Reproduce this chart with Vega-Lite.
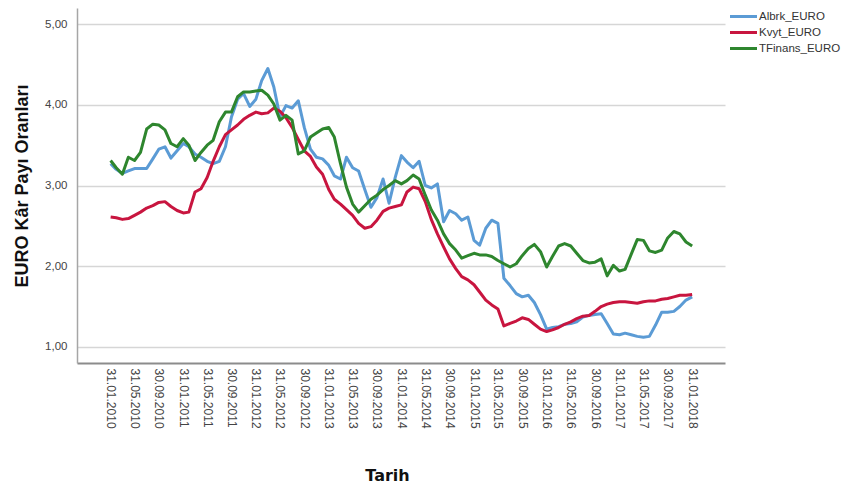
{
  "$schema": "https://vega.github.io/schema/vega-lite/v6.json",
  "width": 648,
  "height": 355,
  "autosize": {"type": "none"},
  "padding": {"left": 77, "top": 8, "right": 142, "bottom": 128},
  "background": "white",
  "data": {"values": [
    {"Tarih":"2010-01-31","Albrk_EURO":3.27,"Kvyt_EURO":2.61,"TFinans_EURO":3.31},
    {"Tarih":"2010-02-28","Albrk_EURO":3.20,"Kvyt_EURO":2.60,"TFinans_EURO":3.22},
    {"Tarih":"2010-03-31","Albrk_EURO":3.15,"Kvyt_EURO":2.58,"TFinans_EURO":3.14},
    {"Tarih":"2010-04-30","Albrk_EURO":3.18,"Kvyt_EURO":2.59,"TFinans_EURO":3.35},
    {"Tarih":"2010-05-31","Albrk_EURO":3.21,"Kvyt_EURO":2.63,"TFinans_EURO":3.31},
    {"Tarih":"2010-06-30","Albrk_EURO":3.21,"Kvyt_EURO":2.67,"TFinans_EURO":3.41},
    {"Tarih":"2010-07-31","Albrk_EURO":3.21,"Kvyt_EURO":2.72,"TFinans_EURO":3.70},
    {"Tarih":"2010-08-31","Albrk_EURO":3.33,"Kvyt_EURO":2.75,"TFinans_EURO":3.76},
    {"Tarih":"2010-09-30","Albrk_EURO":3.45,"Kvyt_EURO":2.79,"TFinans_EURO":3.75},
    {"Tarih":"2010-10-31","Albrk_EURO":3.48,"Kvyt_EURO":2.80,"TFinans_EURO":3.69},
    {"Tarih":"2010-11-30","Albrk_EURO":3.34,"Kvyt_EURO":2.74,"TFinans_EURO":3.52},
    {"Tarih":"2010-12-31","Albrk_EURO":3.43,"Kvyt_EURO":2.69,"TFinans_EURO":3.48},
    {"Tarih":"2011-01-31","Albrk_EURO":3.52,"Kvyt_EURO":2.66,"TFinans_EURO":3.58},
    {"Tarih":"2011-02-28","Albrk_EURO":3.48,"Kvyt_EURO":2.67,"TFinans_EURO":3.50},
    {"Tarih":"2011-03-31","Albrk_EURO":3.39,"Kvyt_EURO":2.92,"TFinans_EURO":3.31},
    {"Tarih":"2011-04-30","Albrk_EURO":3.35,"Kvyt_EURO":2.96,"TFinans_EURO":3.41},
    {"Tarih":"2011-05-31","Albrk_EURO":3.30,"Kvyt_EURO":3.10,"TFinans_EURO":3.50},
    {"Tarih":"2011-06-30","Albrk_EURO":3.27,"Kvyt_EURO":3.30,"TFinans_EURO":3.56},
    {"Tarih":"2011-07-31","Albrk_EURO":3.30,"Kvyt_EURO":3.48,"TFinans_EURO":3.79},
    {"Tarih":"2011-08-31","Albrk_EURO":3.48,"Kvyt_EURO":3.63,"TFinans_EURO":3.91},
    {"Tarih":"2011-09-30","Albrk_EURO":3.85,"Kvyt_EURO":3.69,"TFinans_EURO":3.91},
    {"Tarih":"2011-10-31","Albrk_EURO":4.07,"Kvyt_EURO":3.75,"TFinans_EURO":4.10},
    {"Tarih":"2011-11-30","Albrk_EURO":4.14,"Kvyt_EURO":3.82,"TFinans_EURO":4.16},
    {"Tarih":"2011-12-31","Albrk_EURO":3.98,"Kvyt_EURO":3.87,"TFinans_EURO":4.16},
    {"Tarih":"2012-01-31","Albrk_EURO":4.07,"Kvyt_EURO":3.91,"TFinans_EURO":4.17},
    {"Tarih":"2012-02-29","Albrk_EURO":4.30,"Kvyt_EURO":3.89,"TFinans_EURO":4.18},
    {"Tarih":"2012-03-31","Albrk_EURO":4.45,"Kvyt_EURO":3.90,"TFinans_EURO":4.12},
    {"Tarih":"2012-04-30","Albrk_EURO":4.22,"Kvyt_EURO":3.96,"TFinans_EURO":4.01},
    {"Tarih":"2012-05-31","Albrk_EURO":3.85,"Kvyt_EURO":3.92,"TFinans_EURO":3.81},
    {"Tarih":"2012-06-30","Albrk_EURO":3.99,"Kvyt_EURO":3.84,"TFinans_EURO":3.87},
    {"Tarih":"2012-07-31","Albrk_EURO":3.96,"Kvyt_EURO":3.72,"TFinans_EURO":3.81},
    {"Tarih":"2012-08-31","Albrk_EURO":4.05,"Kvyt_EURO":3.57,"TFinans_EURO":3.39},
    {"Tarih":"2012-09-30","Albrk_EURO":3.72,"Kvyt_EURO":3.43,"TFinans_EURO":3.43},
    {"Tarih":"2012-10-31","Albrk_EURO":3.45,"Kvyt_EURO":3.36,"TFinans_EURO":3.60},
    {"Tarih":"2012-11-30","Albrk_EURO":3.35,"Kvyt_EURO":3.23,"TFinans_EURO":3.65},
    {"Tarih":"2012-12-31","Albrk_EURO":3.33,"Kvyt_EURO":3.14,"TFinans_EURO":3.70},
    {"Tarih":"2013-01-31","Albrk_EURO":3.25,"Kvyt_EURO":2.95,"TFinans_EURO":3.72},
    {"Tarih":"2013-02-28","Albrk_EURO":3.12,"Kvyt_EURO":2.83,"TFinans_EURO":3.60},
    {"Tarih":"2013-03-31","Albrk_EURO":3.08,"Kvyt_EURO":2.77,"TFinans_EURO":3.27},
    {"Tarih":"2013-04-30","Albrk_EURO":3.35,"Kvyt_EURO":2.70,"TFinans_EURO":2.98},
    {"Tarih":"2013-05-31","Albrk_EURO":3.22,"Kvyt_EURO":2.63,"TFinans_EURO":2.77},
    {"Tarih":"2013-06-30","Albrk_EURO":3.18,"Kvyt_EURO":2.53,"TFinans_EURO":2.67},
    {"Tarih":"2013-07-31","Albrk_EURO":2.95,"Kvyt_EURO":2.47,"TFinans_EURO":2.75},
    {"Tarih":"2013-08-31","Albrk_EURO":2.73,"Kvyt_EURO":2.49,"TFinans_EURO":2.83},
    {"Tarih":"2013-09-30","Albrk_EURO":2.85,"Kvyt_EURO":2.57,"TFinans_EURO":2.88},
    {"Tarih":"2013-10-31","Albrk_EURO":3.08,"Kvyt_EURO":2.68,"TFinans_EURO":2.95},
    {"Tarih":"2013-11-30","Albrk_EURO":2.78,"Kvyt_EURO":2.72,"TFinans_EURO":3.00},
    {"Tarih":"2013-12-31","Albrk_EURO":3.10,"Kvyt_EURO":2.74,"TFinans_EURO":3.06},
    {"Tarih":"2014-01-31","Albrk_EURO":3.37,"Kvyt_EURO":2.76,"TFinans_EURO":3.02},
    {"Tarih":"2014-02-28","Albrk_EURO":3.29,"Kvyt_EURO":2.92,"TFinans_EURO":3.06},
    {"Tarih":"2014-03-31","Albrk_EURO":3.22,"Kvyt_EURO":2.98,"TFinans_EURO":3.13},
    {"Tarih":"2014-04-30","Albrk_EURO":3.30,"Kvyt_EURO":2.96,"TFinans_EURO":3.08},
    {"Tarih":"2014-05-31","Albrk_EURO":3.00,"Kvyt_EURO":2.80,"TFinans_EURO":2.88},
    {"Tarih":"2014-06-30","Albrk_EURO":2.97,"Kvyt_EURO":2.58,"TFinans_EURO":2.70},
    {"Tarih":"2014-07-31","Albrk_EURO":3.02,"Kvyt_EURO":2.40,"TFinans_EURO":2.57},
    {"Tarih":"2014-08-31","Albrk_EURO":2.55,"Kvyt_EURO":2.24,"TFinans_EURO":2.40},
    {"Tarih":"2014-09-30","Albrk_EURO":2.69,"Kvyt_EURO":2.09,"TFinans_EURO":2.28},
    {"Tarih":"2014-10-31","Albrk_EURO":2.65,"Kvyt_EURO":1.97,"TFinans_EURO":2.20},
    {"Tarih":"2014-11-30","Albrk_EURO":2.57,"Kvyt_EURO":1.87,"TFinans_EURO":2.10},
    {"Tarih":"2014-12-31","Albrk_EURO":2.61,"Kvyt_EURO":1.83,"TFinans_EURO":2.13},
    {"Tarih":"2015-01-31","Albrk_EURO":2.32,"Kvyt_EURO":1.77,"TFinans_EURO":2.16},
    {"Tarih":"2015-02-28","Albrk_EURO":2.26,"Kvyt_EURO":1.68,"TFinans_EURO":2.14},
    {"Tarih":"2015-03-31","Albrk_EURO":2.47,"Kvyt_EURO":1.58,"TFinans_EURO":2.14},
    {"Tarih":"2015-04-30","Albrk_EURO":2.57,"Kvyt_EURO":1.52,"TFinans_EURO":2.12},
    {"Tarih":"2015-05-31","Albrk_EURO":2.53,"Kvyt_EURO":1.47,"TFinans_EURO":2.07},
    {"Tarih":"2015-06-30","Albrk_EURO":1.85,"Kvyt_EURO":1.26,"TFinans_EURO":2.03},
    {"Tarih":"2015-07-31","Albrk_EURO":1.76,"Kvyt_EURO":1.29,"TFinans_EURO":1.99},
    {"Tarih":"2015-08-31","Albrk_EURO":1.66,"Kvyt_EURO":1.32,"TFinans_EURO":2.03},
    {"Tarih":"2015-09-30","Albrk_EURO":1.62,"Kvyt_EURO":1.36,"TFinans_EURO":2.13},
    {"Tarih":"2015-10-31","Albrk_EURO":1.64,"Kvyt_EURO":1.34,"TFinans_EURO":2.22},
    {"Tarih":"2015-11-30","Albrk_EURO":1.55,"Kvyt_EURO":1.28,"TFinans_EURO":2.27},
    {"Tarih":"2015-12-31","Albrk_EURO":1.40,"Kvyt_EURO":1.22,"TFinans_EURO":2.18},
    {"Tarih":"2016-01-31","Albrk_EURO":1.22,"Kvyt_EURO":1.19,"TFinans_EURO":1.99},
    {"Tarih":"2016-02-29","Albrk_EURO":1.24,"Kvyt_EURO":1.21,"TFinans_EURO":2.12},
    {"Tarih":"2016-03-31","Albrk_EURO":1.25,"Kvyt_EURO":1.24,"TFinans_EURO":2.25},
    {"Tarih":"2016-04-30","Albrk_EURO":1.28,"Kvyt_EURO":1.28,"TFinans_EURO":2.28},
    {"Tarih":"2016-05-31","Albrk_EURO":1.29,"Kvyt_EURO":1.31,"TFinans_EURO":2.25},
    {"Tarih":"2016-06-30","Albrk_EURO":1.31,"Kvyt_EURO":1.35,"TFinans_EURO":2.16},
    {"Tarih":"2016-07-31","Albrk_EURO":1.37,"Kvyt_EURO":1.38,"TFinans_EURO":2.07},
    {"Tarih":"2016-08-31","Albrk_EURO":1.39,"Kvyt_EURO":1.39,"TFinans_EURO":2.04},
    {"Tarih":"2016-09-30","Albrk_EURO":1.40,"Kvyt_EURO":1.44,"TFinans_EURO":2.05},
    {"Tarih":"2016-10-31","Albrk_EURO":1.41,"Kvyt_EURO":1.50,"TFinans_EURO":2.09},
    {"Tarih":"2016-11-30","Albrk_EURO":1.29,"Kvyt_EURO":1.53,"TFinans_EURO":1.88},
    {"Tarih":"2016-12-31","Albrk_EURO":1.16,"Kvyt_EURO":1.55,"TFinans_EURO":2.01},
    {"Tarih":"2017-01-31","Albrk_EURO":1.15,"Kvyt_EURO":1.56,"TFinans_EURO":1.94},
    {"Tarih":"2017-02-28","Albrk_EURO":1.17,"Kvyt_EURO":1.56,"TFinans_EURO":1.96},
    {"Tarih":"2017-03-31","Albrk_EURO":1.15,"Kvyt_EURO":1.55,"TFinans_EURO":2.15},
    {"Tarih":"2017-04-30","Albrk_EURO":1.13,"Kvyt_EURO":1.54,"TFinans_EURO":2.33},
    {"Tarih":"2017-05-31","Albrk_EURO":1.12,"Kvyt_EURO":1.56,"TFinans_EURO":2.32},
    {"Tarih":"2017-06-30","Albrk_EURO":1.13,"Kvyt_EURO":1.57,"TFinans_EURO":2.19},
    {"Tarih":"2017-07-31","Albrk_EURO":1.27,"Kvyt_EURO":1.57,"TFinans_EURO":2.17},
    {"Tarih":"2017-08-31","Albrk_EURO":1.43,"Kvyt_EURO":1.59,"TFinans_EURO":2.20},
    {"Tarih":"2017-09-30","Albrk_EURO":1.43,"Kvyt_EURO":1.60,"TFinans_EURO":2.35},
    {"Tarih":"2017-10-31","Albrk_EURO":1.44,"Kvyt_EURO":1.62,"TFinans_EURO":2.43},
    {"Tarih":"2017-11-30","Albrk_EURO":1.50,"Kvyt_EURO":1.64,"TFinans_EURO":2.40},
    {"Tarih":"2017-12-31","Albrk_EURO":1.58,"Kvyt_EURO":1.64,"TFinans_EURO":2.30},
    {"Tarih":"2018-01-31","Albrk_EURO":1.62,"Kvyt_EURO":1.65,"TFinans_EURO":2.25}
  ]},
  "transform": [{"fold": ["Albrk_EURO", "Kvyt_EURO", "TFinans_EURO"], "as": ["Seri", "Oran"]}],
  "mark": {"type": "line", "strokeWidth": 3, "strokeJoin": "round"},
  "encoding": {
    "x": {
      "field": "Tarih",
      "type": "temporal",
      "scale": {
        "type": "utc",
        "domain": [{"year": 2009, "month": 8, "date": 15, "utc": true}, {"year": 2018, "month": 7, "date": 15, "utc": true}]
      },
      "axis": {
        "title": "Tarih",
        "values": [
          {"year": 2010, "month": 1, "date": 31, "utc": true},
          {"year": 2010, "month": 5, "date": 31, "utc": true},
          {"year": 2010, "month": 9, "date": 30, "utc": true},
          {"year": 2011, "month": 1, "date": 31, "utc": true},
          {"year": 2011, "month": 5, "date": 31, "utc": true},
          {"year": 2011, "month": 9, "date": 30, "utc": true},
          {"year": 2012, "month": 1, "date": 31, "utc": true},
          {"year": 2012, "month": 5, "date": 31, "utc": true},
          {"year": 2012, "month": 9, "date": 30, "utc": true},
          {"year": 2013, "month": 1, "date": 31, "utc": true},
          {"year": 2013, "month": 5, "date": 31, "utc": true},
          {"year": 2013, "month": 9, "date": 30, "utc": true},
          {"year": 2014, "month": 1, "date": 31, "utc": true},
          {"year": 2014, "month": 5, "date": 31, "utc": true},
          {"year": 2014, "month": 9, "date": 30, "utc": true},
          {"year": 2015, "month": 1, "date": 31, "utc": true},
          {"year": 2015, "month": 5, "date": 31, "utc": true},
          {"year": 2015, "month": 9, "date": 30, "utc": true},
          {"year": 2016, "month": 1, "date": 31, "utc": true},
          {"year": 2016, "month": 5, "date": 31, "utc": true},
          {"year": 2016, "month": 9, "date": 30, "utc": true},
          {"year": 2017, "month": 1, "date": 31, "utc": true},
          {"year": 2017, "month": 5, "date": 31, "utc": true},
          {"year": 2017, "month": 9, "date": 30, "utc": true},
          {"year": 2018, "month": 1, "date": 31, "utc": true}
        ],
        "labelExpr": "utcFormat(datum.value, '%d.%m.%Y')",
        "labelAngle": 90,
        "labelAlign": "left",
        "labelBaseline": "middle",
        "labelPadding": 5,
        "labelOverlap": false,
        "labelFlush": false,
        "ticks": false,
        "grid": false,
        "domainColor": "#8c8c8c",
        "domainWidth": 2,
        "labelFont": "Liberation Sans",
        "labelFontSize": 12,
        "labelColor": "#444444",
        "titleFont": "DejaVu Sans",
        "titleFontSize": 16,
        "titleFontWeight": "bold",
        "titleColor": "#111111",
        "titleX": 310,
        "titleY": 117,
        "titleBaseline": "alphabetic"
      }
    },
    "y": {
      "field": "Oran",
      "type": "quantitative",
      "scale": {"domain": [0.8, 5.2], "nice": false, "zero": false},
      "axis": {
        "title": "EURO Kâr Payı Oranları",
        "values": [1, 2, 3, 4, 5],
        "labelExpr": "replace(format(datum.value, '.2f'), '.', ',')",
        "ticks": false,
        "grid": true,
        "gridColor": "#d6d6d6",
        "gridWidth": 1.5,
        "domainColor": "#a6a6a6",
        "domainWidth": 1.5,
        "labelPadding": 10,
        "labelFont": "Liberation Sans",
        "labelFontSize": 11.5,
        "labelColor": "#444444",
        "titleFont": "Liberation Sans",
        "titleFontSize": 18,
        "titleFontWeight": "bold",
        "titleColor": "#111111",
        "titleX": -50,
        "titleBaseline": "alphabetic"
      }
    },
    "color": {
      "field": "Seri",
      "type": "nominal",
      "scale": {
        "domain": ["Albrk_EURO", "Kvyt_EURO", "TFinans_EURO"],
        "range": ["#5b9bd5", "#c8153f", "#2e862e"]
      },
      "legend": {
        "title": null,
        "orient": "right",
        "offset": 10,
        "padding": 0,
        "symbolType": "M-2,0H2",
        "symbolStrokeWidth": 3,
        "symbolSize": 182,
        "labelFont": "Liberation Sans",
        "labelFontSize": 11.5,
        "labelColor": "#333333",
        "labelOffset": 7,
        "rowPadding": 1
      }
    }
  },
  "config": {"view": {"stroke": null}}
}
